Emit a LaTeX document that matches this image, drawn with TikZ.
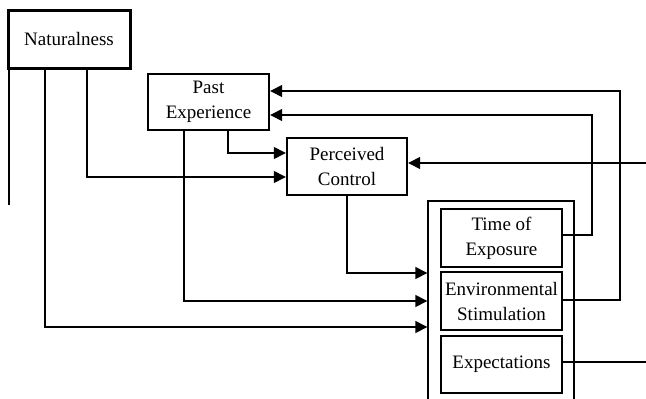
\documentclass[tikz,border=0pt]{standalone}
\usepackage{fontspec}
\setmainfont{Liberation Serif}
\usepackage{tikz}
\usetikzlibrary{arrows.meta, calc, positioning}

\tikzset{
    factor/.style={draw, line width=2.4pt, align=center, inner sep=0pt,
        font=\fontsize{19}{25}\selectfont},
    group/.style={draw, line width=1.4pt, inner sep=0pt},
    link/.style={line width=1.4pt},
    arr/.style={link, -{Triangle[length=12pt, width=12pt]}}
}

\begin{document}
\begin{tikzpicture}[x=1pt, y=-1pt]
                    \useasboundingbox (0, 0) rectangle (646, 399);

                    \node[factor, line width=3pt, minimum width=122, minimum height=58] (nat) at (69, 39) {Naturalness};
                    \node[factor, minimum width=121, minimum height=56] (past) at (208.5, 102) {Past\\Experience};
                    \node[factor, minimum width=120, minimum height=57] (ctrl) at (347, 166.5) {Perceived\\Control};

                    \node[group, minimum width=146, minimum height=219] (grp) at (501, 310.5) {};
                    \node[factor, minimum width=121, minimum height=58] (time) at (501.5, 238) {Time of\\Exposure};
                    \node[factor, minimum width=121, minimum height=58] (env) at (501.5, 301) {Environmental\\Stimulation};
                    \node[factor, minimum width=121, minimum height=57] (expect) at (501.5, 364.5) {Expectations};

                    \coordinate (natend) at (9, 205);
                    \coordinate (inctrl) at (646, 163);
                    \coordinate (outexp) at (646, 362);

                    % from naturalness
                    \draw[link] (natend |- nat.south) -- (natend);
                    \draw[arr] (45, 0 |- nat.south) |- (grp.west |- 0, 327);
                    \draw[arr] (87, 0 |- nat.south) |- (ctrl.west |- 0, 177);

                    % from past experience
                    \draw[arr] (228, 0 |- past.south) |- (ctrl.west |- 0, 153);
                    \draw[arr] (184, 0 |- past.south) |- (grp.west |- 0, 301);

                    % from perceived control
                    \draw[arr] (ctrl.south) |- (grp.west |- 0, 273);
                    \draw[arr] (inctrl) -- (ctrl.east |- inctrl);

                    % feedback to past experience
                    \draw[arr] (time.east |- 0, 235) -| (592, 115) -- (past.east |- 0, 115);
                    \draw[arr] (env.east |- 0, 300) -| (620, 91) -- (past.east |- 0, 91);
                    \draw[link] (expect.east |- outexp) -- (outexp);
                \end{tikzpicture}
\end{document}
